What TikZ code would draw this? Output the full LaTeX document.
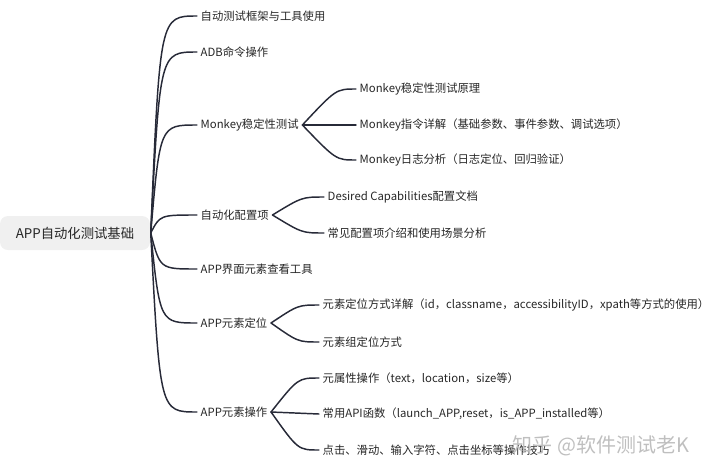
\documentclass[tikz,border=0pt]{standalone}
\usepackage{fontspec}
\setmainfont{Noto Sans CJK SC}
\definecolor{linecol}{HTML}{272A38}
\definecolor{txtcol}{HTML}{262626}
\definecolor{rootfill}{HTML}{F0F0F0}
\tikzset{every picture/.style={line width=1.1pt}}
\tikzset{
  topic/.style={anchor=west,inner sep=2.25pt,text=txtcol,font=\fontsize{8.5}{10}\selectfont},
  branch/.style={draw=linecol,line cap=round}
}

\begin{document}
\begin{tikzpicture}[x=0.75pt,y=0.75pt,yscale=-1,xscale=1]
\path (0,0) rectangle (720,475); %set diagram size 720 x 475

% Root Node
\node (root) [fill=rootfill,rounded corners=6pt,minimum width=112.5pt,minimum height=25.5pt,inner sep=0pt,text=txtcol,font=\fontsize{10}{12}\selectfont] at (75,233) {APP自动化测试基础};
\coordinate (hub) at (160,233);

% Text Node
\node (frame) [topic] at (197,16) {自动测试框架与工具使用};
\node (adb) [topic] at (197,52) {ADB命令操作};
\node (monkey) [topic] at (197,125) {Monkey稳定性测试};
\node (config) [topic] at (197,215) {自动化配置项};
\node (viewer) [topic] at (197,269) {APP界面元素查看工具};
\node (locate) [topic] at (197,323) {APP元素定位};
\node (operate) [topic] at (197,412) {APP元素操作};

% Text Node
\node (mkprin) [topic] at (356,89) {Monkey稳定性测试原理};
\node (mkcmd) [topic] at (356,125) {Monkey指令详解（基础参数、事件参数、调试选项）};
\node (mklog) [topic] at (356,160) {Monkey日志分析（日志定位、回归验证）};
\coordinate (mkhub) at (336,125);

\node (capdoc) [topic] at (324,197) {Desired Capabilities配置文档};
\node (capuse) [topic] at (324,233) {常见配置项介绍和使用场景分析};
\coordinate (cfhub) at (302,215);

\node (locway) [topic] at (319,305) {元素定位方式详解（id，classname，accessibilityID，xpath等方式的使用）};
\node (locgrp) [topic] at (319,342) {元素组定位方式};
\coordinate (lchub) at (298,323);

\node (opattr) [topic] at (319,378) {元属性操作（text，location，size等）};
\node (opapi) [topic] at (319,414) {常用API函数（launch\_APP,reset，is\_APP\_installed等）};
\node (opclick) [topic] at (319,450) {点击、滑动、输入字符、点击坐标等操作技巧};
\coordinate (ophub) at (298,412);

%Curve Lines
\draw [branch] (root.east) .. controls (hub |- frame.west) .. (frame.west);
\draw [branch] (root.east) .. controls (hub |- adb.west) .. (adb.west);
\draw [branch] (root.east) .. controls (hub |- monkey.west) .. (monkey.west);
\draw [branch] (root.east) .. controls (hub |- config.west) .. (config.west);
\draw [branch] (root.east) .. controls (hub |- viewer.west) .. (viewer.west);
\draw [branch] (root.east) .. controls (hub |- locate.west) .. (locate.west);
\draw [branch] (root.east) .. controls (hub |- operate.west) .. (operate.west);

%Curve Lines
\draw [branch] (monkey.east) .. controls (mkhub |- mkprin.west) .. (mkprin.west);
\draw [branch] (monkey.east) -- (mkcmd.west);
\draw [branch] (monkey.east) .. controls (mkhub |- mklog.west) .. (mklog.west);

\draw [branch] (config.east) .. controls (cfhub |- capdoc.west) .. (capdoc.west);
\draw [branch] (config.east) .. controls (cfhub |- capuse.west) .. (capuse.west);

\draw [branch] (locate.east) .. controls (lchub |- locway.west) .. (locway.west);
\draw [branch] (locate.east) .. controls (lchub |- locgrp.west) .. (locgrp.west);

\draw [branch] (operate.east) .. controls (ophub |- opattr.west) .. (opattr.west);
\draw [branch] (operate.east) -- (opapi.west);
\draw [branch] (operate.east) .. controls (ophub |- opclick.west) .. (opclick.west);

% Watermark
\node (mark) [anchor=west,inner sep=0pt,text=black!25,font=\fontsize{15}{17}\selectfont] at (512,446) {知乎 @软件测试老K};

\end{tikzpicture}
\end{document}
